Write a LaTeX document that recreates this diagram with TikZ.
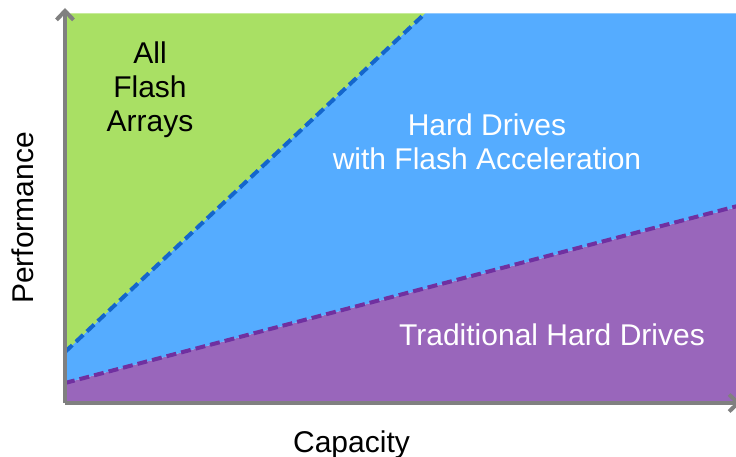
\documentclass[tikz,border=0pt]{standalone}
\usepackage{fontspec}
\setmainfont{Liberation Sans}
\usetikzlibrary{arrows.meta}
\definecolor{flashgreen}{RGB}{169,224,100}
\definecolor{hybridblue}{RGB}{85,172,255}
\definecolor{hddpurple}{RGB}{153,102,187}
\definecolor{bluedash}{RGB}{20,102,204}
\definecolor{purpledash}{RGB}{112,48,160}
\definecolor{axisgray}{RGB}{128,128,128}
\tikzset{
  region/.style={draw=none},
  divider/.style={line width=4pt, dash pattern=on 10pt off 5pt},
  axisline/.style={draw=axisgray, line width=4pt, -{Straight Barb[length=9pt,width=17pt,line width=4pt]}},
  bigtext/.style={font=\fontsize{30}{34}\selectfont, inner sep=0pt, align=center},
}
\begin{document}
\begin{tikzpicture}[x=1pt,y=-1pt]
\clip (0,0) rectangle (736,457);
% regions
\fill[region, hddpurple] (65,403) -- (65,383) -- (745,205) -- (745,403) -- cycle;
\fill[region, hybridblue] (65,383) -- (65,352) -- (425,13.5) -- (745,13.5) -- (745,205) -- cycle;
\fill[region, flashgreen] (65,352) -- (65,13.5) -- (425,13.5) -- cycle;
% dividers
\coordinate (g1) at (65,352);
\coordinate (g2) at (425,13.5);
\coordinate (p1) at (65,383);
\coordinate (p2) at (745,204);
\draw[divider, bluedash] (g1) -- (g2);
\draw[divider, purpledash] (p1) -- (p2);
% axes
\coordinate (o) at (65,403);
\coordinate (ytop) at (65,8);
\coordinate (xend) at (741,403);
\draw[axisline] (o) -- (ytop);
\draw[axisline] (o) -- (xend);
% labels
\node[bigtext] (afa) at (150,89.5) {All\\Flash\\Arrays};
\node[bigtext, text=white] (hdfa) at (487,142) {Hard Drives\\with Flash Acceleration};
\node[bigtext, text=white, anchor=base] (thd) at (552,345) {Traditional Hard Drives};
\node[bigtext, anchor=base] (cap) at (351.5,452) {Capacity};
\node[bigtext, anchor=base, rotate=90] (perf) at (33,218) {Performance};
\end{tikzpicture}
\end{document}
